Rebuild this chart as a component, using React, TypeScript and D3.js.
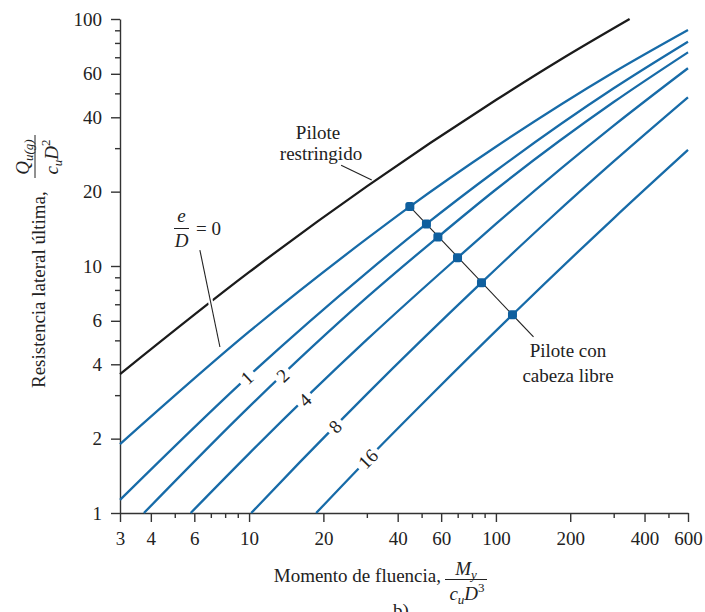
import React, { useRef, useEffect } from 'react';
import * as d3 from 'd3';

// valores de los ejes
const xTickValues = [3, 4, 6, 10, 20, 40, 60, 100, 200, 400, 600];
const xMinorValues = [5, 7, 8, 9, 30, 50, 70, 80, 90, 300, 500];
const yTickValues = [1, 2, 4, 6, 10, 20, 40, 60, 100];
const yMinorValues = [3, 5, 7, 8, 9, 30, 50, 70, 80, 90];

// curvas: [My/(cu D^3), Qu(g)/(cu D^2)]
const restrainedCurve = [[3, 3.65], [10, 9.44], [30, 21.0], [100, 47.0], [181, 68.1], [348, 100]];
const eD0 = [[3, 1.9], [10, 5.42], [30, 12.9], [44.8, 17.4], [100, 30.4], [300, 60.9], [600, 90.3]];
const eD1 = [[3, 1.13], [10, 3.6], [30, 9.41], [52.3, 14.8], [100, 24.3], [300, 52.4], [600, 80.9]];
const eD2 = [[3.75, 1], [10, 2.69], [30, 7.46], [58.2, 13.1], [100, 20.4], [300, 46.1], [600, 73.3]];
const eD4 = [[5.8, 1], [10, 1.74], [30, 5.03], [69.9, 10.8], [100, 14.8], [300, 37.0], [600, 63.2]];
const eD8 = [[10.2, 1], [16.1, 1.61], [30, 3.03], [87.4, 8.56], [165, 15.5], [300, 26.5], [600, 48.2]];
const eD16 = [[18.7, 1], [30, 1.64], [54, 2.97], [116.7, 6.35], [300, 15.6], [600, 29.5]];

const freeHeadCurves = [eD0, eD1, eD2, eD4, eD8, eD16];
const curveLabels = ['1', '2', '4', '8', '16'];
const curveLabelX = [9.8, 13.7, 16.8, 22.3, 30.3];

// pilote con cabeza libre (puntos sobre las curvas)
const freeHeadPoints = [[44.8, 17.4], [52.3, 14.8], [58.2, 13.1], [69.9, 10.8], [87.4, 8.56], [116.7, 6.35]];
const freeHeadLeaderEnd = [142, 5.16];

// lineas guia de las anotaciones
const restrainedLeader = [[23.6, 25.6], [31.4, 22.3]];
const eD0Leader = [[6.32, 11.6], [7.62, 4.7]];

const FONT = '"Liberation Serif", "Times New Roman", serif';
const BLUE = '#176ba8';

const App = () => {
    const containerRef = useRef(null);

    useEffect(() => {
        if (containerRef.current) {
            drawChart(containerRef.current);
        }
    }, []);

    return <div ref={containerRef} style={{ position: 'absolute', left: 0, top: 0 }}></div>;
};

function valueAt(points, xv) {
    const lx = Math.log10(xv);
    for (let i = 0; i < points.length - 1; i++) {
        const [x0, y0] = points[i];
        const [x1, y1] = points[i + 1];
        if (xv >= x0 && xv <= x1) {
            const t = (lx - Math.log10(x0)) / (Math.log10(x1) - Math.log10(x0));
            return Math.pow(10, Math.log10(y0) + t * (Math.log10(y1) - Math.log10(y0)));
        }
    }
    return points[points.length - 1][1];
}

function drawChart(container) {
    const width = 705;
    const height = 612;

    d3.select(container).selectAll('*').remove();

    const svg = d3.select(container).append('svg')
        .attr('width', width)
        .attr('height', height)
        .style('display', 'block')
        .style('background', '#fff')
        .style('font-family', FONT);

    const x = d3.scaleLog().domain([3, 600]).range([120, 688]);
    const y = d3.scaleLog().domain([1, 100]).range([513, 19]);

    const line = d3.line()
        .x(d => x(d[0]))
        .y(d => y(d[1]))
        .curve(d3.curveMonotoneX);

    // ejes
    const xAxis = svg.append('g')
        .attr('transform', 'translate(0,513)')
        .attr('color', '#333')
        .call(d3.axisBottom(x).tickValues(xTickValues).tickFormat(d3.format('d')).tickSize(9).tickSizeOuter(0).tickPadding(10));
    xAxis.selectAll('text')
        .style('font-family', FONT)
        .style('font-size', '19px')
        .attr('fill', '#222');

    svg.append('g')
        .attr('transform', 'translate(0,513)')
        .attr('color', '#333')
        .call(d3.axisBottom(x).tickValues(xMinorValues).tickFormat('').tickSize(5).tickSizeOuter(0))
        .select('.domain').remove();

    const yAxis = svg.append('g')
        .attr('transform', 'translate(120,0)')
        .attr('color', '#333')
        .call(d3.axisLeft(y).tickValues(yTickValues).tickFormat(d3.format('d')).tickSize(9).tickSizeOuter(0).tickPadding(9));
    yAxis.selectAll('text')
        .style('font-family', FONT)
        .style('font-size', '19px')
        .attr('fill', '#222');

    svg.append('g')
        .attr('transform', 'translate(120,0)')
        .attr('color', '#333')
        .call(d3.axisLeft(y).tickValues(yMinorValues).tickFormat('').tickSize(5).tickSizeOuter(0))
        .select('.domain').remove();

    svg.selectAll('.domain, .tick line').attr('stroke-width', 1.4);

    // curvas
    svg.append('path')
        .datum(restrainedCurve)
        .attr('d', line)
        .attr('fill', 'none')
        .attr('stroke', '#1b1b1b')
        .attr('stroke-width', 2.3);

    freeHeadCurves.forEach(points => {
        svg.append('path')
            .datum(points)
            .attr('d', line)
            .attr('fill', 'none')
            .attr('stroke', BLUE)
            .attr('stroke-width', 2.3);
    });

    // etiquetas e/D sobre las curvas
    curveLabels.forEach((label, i) => {
        const points = freeHeadCurves[i + 1];
        const xv = curveLabelX[i];
        const px = x(xv);
        const py = y(valueAt(points, xv));
        const pa = [x(xv * 0.95), y(valueAt(points, xv * 0.95))];
        const pb = [x(xv * 1.05), y(valueAt(points, xv * 1.05))];
        const angle = Math.atan2(pb[1] - pa[1], pb[0] - pa[0]) * 180 / Math.PI;
        const g = svg.append('g').attr('transform', `translate(${px},${py}) rotate(${angle})`);
        const w = label.length * 9.5 + 8;
        g.append('rect')
            .attr('x', -w / 2)
            .attr('y', -8)
            .attr('width', w)
            .attr('height', 16)
            .attr('fill', '#fff');
        g.append('text')
            .attr('text-anchor', 'middle')
            .attr('dy', '0.35em')
            .style('font-size', '19px')
            .attr('fill', '#222')
            .text(label);
    });

    // pilote con cabeza libre
    svg.append('path')
        .datum([freeHeadPoints[0], freeHeadLeaderEnd])
        .attr('d', d3.line().x(d => x(d[0])).y(d => y(d[1])))
        .attr('stroke', '#222')
        .attr('stroke-width', 1.1);

    svg.selectAll('.dot')
        .data(freeHeadPoints)
        .enter().append('rect')
        .attr('class', 'dot')
        .attr('x', d => x(d[0]) - 4.5)
        .attr('y', d => y(d[1]) - 4.5)
        .attr('width', 9)
        .attr('height', 9)
        .attr('rx', 2.5)
        .attr('fill', '#0f5f9e');

    const freeText = svg.append('text')
        .attr('text-anchor', 'middle')
        .style('font-size', '19px')
        .attr('fill', '#222');
    freeText.append('tspan').attr('x', 568).attr('y', 357).text('Pilote con');
    freeText.append('tspan').attr('x', 568).attr('y', 382).text('cabeza libre');

    // pilote restringido
    svg.append('path')
        .datum(restrainedLeader)
        .attr('d', d3.line().x(d => x(d[0])).y(d => y(d[1])))
        .attr('stroke', '#222')
        .attr('stroke-width', 1.1);

    const restText = svg.append('text')
        .attr('text-anchor', 'middle')
        .style('font-size', '19px')
        .attr('fill', '#222');
    restText.append('tspan').attr('x', 318).attr('y', 139).text('Pilote');
    restText.append('tspan').attr('x', 321).attr('y', 160).text('restringido');

    // e/D = 0
    const leader0 = d3.line().x(d => x(d[0])).y(d => y(d[1]));
    svg.append('path')
        .datum(eD0Leader)
        .attr('d', leader0)
        .attr('stroke', '#fff')
        .attr('stroke-width', 5);
    svg.append('path')
        .datum(eD0Leader)
        .attr('d', leader0)
        .attr('stroke', '#222')
        .attr('stroke-width', 1.1);

    svg.append('text')
        .attr('x', 181.5).attr('y', 222)
        .attr('text-anchor', 'middle')
        .style('font-size', '19px')
        .style('font-style', 'italic')
        .attr('fill', '#222')
        .text('e');
    svg.append('line')
        .attr('x1', 174).attr('x2', 189)
        .attr('y1', 228.5).attr('y2', 228.5)
        .attr('stroke', '#222')
        .attr('stroke-width', 1);
    svg.append('text')
        .attr('x', 181.5).attr('y', 247)
        .attr('text-anchor', 'middle')
        .style('font-size', '19px')
        .style('font-style', 'italic')
        .attr('fill', '#222')
        .text('D');
    svg.append('text')
        .attr('x', 196).attr('y', 235)
        .style('font-size', '19px')
        .attr('fill', '#222')
        .text('= 0');

    // titulo del eje y
    const yTitle = svg.append('g')
        .attr('transform', 'translate(45,388) rotate(-90)')
        .attr('fill', '#222');
    yTitle.append('text')
        .attr('x', 0).attr('y', 0)
        .style('font-size', '19px')
        .text('Resistencia lateral última,');
    yTitle.append('line')
        .attr('x1', 210).attr('x2', 253)
        .attr('y1', -10).attr('y2', -10)
        .attr('stroke', '#222')
        .attr('stroke-width', 1);
    const yNum = yTitle.append('text')
        .attr('x', 231).attr('y', -16)
        .attr('text-anchor', 'middle')
        .style('font-size', '19px')
        .style('font-style', 'italic');
    yNum.append('tspan').text('Q');
    yNum.append('tspan').attr('dy', 4).style('font-size', '13px').text('u(g)');
    const yDen = yTitle.append('text')
        .attr('x', 231).attr('y', 13)
        .attr('text-anchor', 'middle')
        .style('font-size', '19px')
        .style('font-style', 'italic');
    yDen.append('tspan').text('c');
    yDen.append('tspan').attr('dy', 4).style('font-size', '13px').text('u');
    yDen.append('tspan').attr('dy', -4).text('D');
    yDen.append('tspan').attr('dy', -8).style('font-size', '13px').style('font-style', 'normal').text('2');

    // titulo del eje x
    svg.append('text')
        .attr('x', 441).attr('y', 582)
        .attr('text-anchor', 'end')
        .style('font-size', '19px')
        .attr('fill', '#222')
        .text('Momento de fluencia,');
    svg.append('line')
        .attr('x1', 445).attr('x2', 487)
        .attr('y1', 579.5).attr('y2', 579.5)
        .attr('stroke', '#222')
        .attr('stroke-width', 1);
    const xNum = svg.append('text')
        .attr('x', 466).attr('y', 575)
        .attr('text-anchor', 'middle')
        .style('font-size', '19px')
        .style('font-style', 'italic')
        .attr('fill', '#222');
    xNum.append('tspan').text('M');
    xNum.append('tspan').attr('dy', 4).style('font-size', '13px').text('y');
    const xDen = svg.append('text')
        .attr('x', 467).attr('y', 600)
        .attr('text-anchor', 'middle')
        .style('font-size', '19px')
        .style('font-style', 'italic')
        .attr('fill', '#222');
    xDen.append('tspan').text('c');
    xDen.append('tspan').attr('dy', 4).style('font-size', '13px').text('u');
    xDen.append('tspan').attr('dy', -4).text('D');
    xDen.append('tspan').attr('dy', -8).style('font-size', '13px').style('font-style', 'normal').text('3');

    // pie de figura (cortado en el borde inferior, como en el original)
    svg.append('text')
        .attr('x', 393).attr('y', 617)
        .style('font-size', '19px')
        .attr('fill', '#222')
        .text('b)');
}

export default App;
